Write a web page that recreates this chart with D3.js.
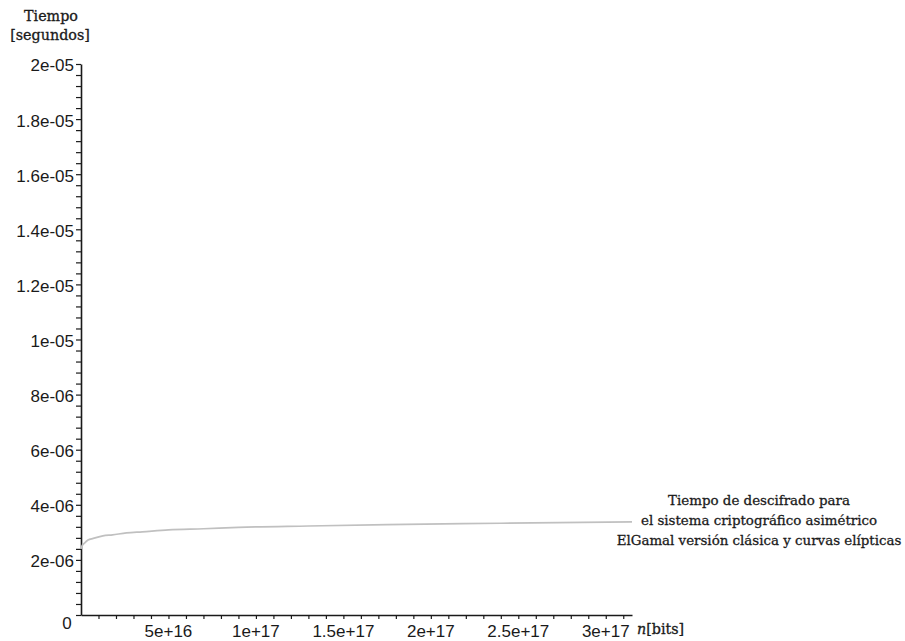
<!DOCTYPE html>
<html>
<head>
<meta charset="utf-8">
<script src="https://cdn.jsdelivr.net/npm/d3@7"></script>
<style>
  html, body { margin: 0; padding: 0; background: #fff; }
  svg { display: block; }
</style>
</head>
<body>
<script>
// Decryption time (seconds) against key size n (bits)
const nBits = [0, 5e14, 2e15, 4e15, 7e15, 1.25e16, 1.8e16, 2.6e16, 3.5e16, 5e16, 7e16, 9e16, 1.3e17, 1.75e17, 2.4e17, 3.15e17];
const seconds = [2.40e-6, 2.50e-6, 2.61e-6, 2.72e-6, 2.78e-6, 2.87e-6, 2.91e-6, 2.98e-6, 3.02e-6, 3.09e-6, 3.13e-6, 3.18e-6, 3.23e-6, 3.28e-6, 3.33e-6, 3.38e-6];

const yTickValues = [2e-6, 4e-6, 6e-6, 8e-6, 1e-5, 1.2e-5, 1.4e-5, 1.6e-5, 1.8e-5, 2e-5];
const yTickLabels = ["2e-06", "4e-06", "6e-06", "8e-06", "1e-05", "1.2e-05", "1.4e-05", "1.6e-05", "1.8e-05", "2e-05"];
const xTickValues = [5e16, 1e17, 1.5e17, 2e17, 2.5e17, 3e17];
const xTickLabels = ["5e+16", "1e+17", "1.5e+17", "2e+17", "2.5e+17", "3e+17"];

const legendLines = ["Tiempo de descifrado para", "el sistema criptográfico asimétrico", "ElGamal versión clásica y curvas elípticas"];

const W = 905, H = 641;
const svg = d3.select("body").append("svg").attr("width", W).attr("height", H);

const x = d3.scaleLinear().domain([0, 3.15e17]).range([81, 632]);
const y = d3.scaleLinear().domain([0, 2e-5]).range([615, 64]);

const sans = "'Liberation Sans', Arial, sans-serif";
const serif = "'DejaVu Serif', serif";
const ink = "#1a1a1a";

// minor ticks
const yMinor = d3.range(0, 2e-5 + 1e-12, 4e-7);
const xMinor = d3.range(1e16, 3.15e17, 1e16);

const yAxis = svg.append("g")
  .attr("transform", `translate(${x(0)},0)`)
  .call(d3.axisLeft(y).tickValues(yMinor).tickSize(5).tickFormat("").tickSizeOuter(0));
const xAxis = svg.append("g")
  .attr("transform", `translate(0,${y(0)})`)
  .call(d3.axisBottom(x).tickValues(xMinor).tickSize(4).tickFormat("").tickSizeOuter(0));

[yAxis, xAxis].forEach(g => {
  g.select(".domain").attr("stroke", ink).attr("stroke-width", 1.6);
  g.selectAll(".tick line").attr("stroke", ink).attr("stroke-width", 1.2);
});

// tick labels
svg.append("g").selectAll("text").data(yTickValues).join("text")
  .attr("x", 74).attr("y", d => y(d) + 3)
  .attr("dominant-baseline", "middle")
  .attr("text-anchor", "end")
  .attr("font-family", sans).attr("font-size", 17).attr("fill", ink)
  .text((d, i) => yTickLabels[i]);

svg.append("g").selectAll("text").data(xTickValues).join("text")
  .attr("x", d => x(d)).attr("y", 637)
  .attr("text-anchor", "middle")
  .attr("font-family", sans).attr("font-size", 17).attr("fill", ink)
  .text((d, i) => xTickLabels[i]);

svg.append("text").attr("x", 67).attr("y", 629)
  .attr("text-anchor", "middle")
  .attr("font-family", sans).attr("font-size", 17).attr("fill", ink)
  .text("0");

// serif texts get a hairline stroke for a slightly heavier weight
function serifText(sel, size) {
  return sel.attr("font-family", serif).attr("font-size", size)
    .attr("fill", ink).attr("stroke", ink).attr("stroke-width", 0.3);
}

// axis titles
serifText(svg.append("text"), 14.3).attr("x", 51).attr("y", 21).attr("text-anchor", "middle").text("Tiempo");
serifText(svg.append("text"), 14.3).attr("x", 50).attr("y", 40).attr("text-anchor", "middle").text("[segundos]");

const xt = serifText(svg.append("text"), 14.3).attr("x", 637).attr("y", 634);
xt.append("tspan").attr("font-style", "italic").text("n");
xt.append("tspan").text("[bits]");

// curve
const line = d3.line().x((d, i) => x(nBits[i])).y(d => y(d)).curve(d3.curveMonotoneX);
svg.append("path").datum(seconds)
  .attr("d", line)
  .attr("fill", "none")
  .attr("stroke", "#c0c0c0")
  .attr("stroke-width", 1.7);

// curve label
serifText(svg.append("g").selectAll("text").data(legendLines).join("text"), 13.4)
  .attr("x", 759).attr("y", (d, i) => 505 + i * 20)
  .attr("text-anchor", "middle")
  .text(d => d);
</script>
</body>
</html>
